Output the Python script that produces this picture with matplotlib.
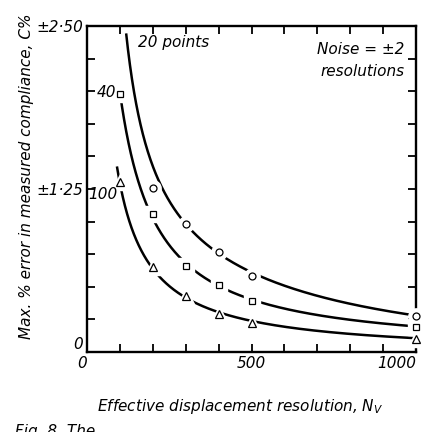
import numpy as np
import matplotlib
matplotlib.use("Agg")
import matplotlib.pyplot as plt

# ---- data (plotted points) ----
N_20 = [200, 300, 400, 500, 1000]
C_20 = [1.26, 0.98, 0.77, 0.585, 0.275]
N_40 = [100, 200, 300, 400, 500, 1000]
C_40 = [1.98, 1.06, 0.66, 0.51, 0.39, 0.19]
N_100 = [100, 200, 300, 400, 500, 1000]
C_100 = [1.30, 0.65, 0.43, 0.29, 0.225, 0.10]

# ---- drawn curves ----
curve20_N = [119, 151, 216, 300, 400, 500, 765, 1000]
curve20_C = [2.44, 1.88, 1.335, 0.98, 0.77, 0.585, 0.405, 0.275]
curve40_N = [100, 200, 300, 400, 500, 765, 1000]
curve40_C = [1.98, 1.06, 0.66, 0.51, 0.39, 0.275, 0.19]
curve100_N = [91, 100, 200, 300, 400, 500, 765, 1000]
curve100_C = [1.41, 1.30, 0.65, 0.43, 0.29, 0.225, 0.165, 0.10]

x_ticks = list(range(0, 1001, 100))
x_labels = {0: "0", 500: "500", 1000: "1000"}
y_ticks = [0, 0.25, 0.5, 0.75, 1.0, 1.25, 1.5, 1.75, 2.0, 2.25, 2.5]
y_labels = {0: "0", 1.25: "\u00b11\u00b725", 2.5: "\u00b12\u00b750"}

plt.rcParams['font.family'] = ['DejaVu Sans']
plt.rcParams['font.style'] = 'italic'
plt.rcParams['mathtext.fontset'] = 'dejavusans'


def smooth(xs, ys):
    # smooth least-squares cubic through the curve readings (log-log)
    lx = np.log(xs); ly = np.log(ys)
    p = np.polyfit(lx, ly, 3)
    xn = np.linspace(lx[0], lx[-1], 600)
    return np.exp(xn), np.exp(np.polyval(p, xn))


fig = plt.figure(figsize=(4.25, 4.32), dpi=100)
ax = fig.add_axes([87 / 425, 1 - 352 / 432, 329 / 425, 326 / 432])

series = [
    (curve20_N, curve20_C, N_20, C_20, 'o'),
    (curve40_N, curve40_C, N_40, C_40, 's'),
    (curve100_N, curve100_C, N_100, C_100, '^'),
]
for cx, cy, mx, my, mk in series:
    sx, sy = smooth(cx, cy)
    ax.plot(sx, sy, color='black', lw=1.8, solid_capstyle='butt', zorder=2, clip_on=False)
    ax.plot(mx, my, linestyle='none', marker=mk, ms=11 if mk != '^' else 12,
            mfc='white', mec='white', zorder=3, clip_on=False)
    ax.plot(mx, my, linestyle='none', marker=mk, ms=5 if mk != '^' else 5.5,
            mfc='white', mec='black', mew=0.9, zorder=4, clip_on=False)

ax.set_xlim(0, 1000)
ax.set_ylim(0, 2.5)
ax.set_xticks(x_ticks)
ax.set_xticklabels([x_labels.get(t, "") for t in x_ticks])
ax.set_yticks(y_ticks)
ax.set_yticklabels([y_labels.get(t, "") for t in y_ticks])
ax.tick_params(direction='in', length=5.5, width=1.3, top=True, right=True,
               labelsize=11, pad=3)
for lab in ax.get_yticklabels():
    if lab.get_text() == "0":
        lab.set_verticalalignment('bottom')
for lab in ax.get_xticklabels():
    if lab.get_text() == "1000":
        lab.set_horizontalalignment('right')
    if lab.get_text() == "0":
        lab.set_horizontalalignment('right')
for s in ax.spines.values():
    s.set_linewidth(1.7)

ax.text(155, 2.37, "20 points", fontsize=11, ha='left', va='center')
ax.text(965, 2.32, "Noise = \u00b12", fontsize=11, ha='right', va='center')
ax.text(965, 2.15, "resolutions", fontsize=11, ha='right', va='center')
ax.text(88, 1.99, "40", fontsize=11, ha='right', va='center')
ax.text(93, 1.21, "100", fontsize=11, ha='right', va='center')

fig.text(240 / 425, 1 - 407 / 432, "Effective displacement resolution, $N_V$",
         fontsize=11, ha='center', va='center')
fig.text(27 / 425, 1 - 176 / 432, "Max. % error in measured compliance, C%",
         fontsize=11, ha='center', va='center', rotation=90)
fig.text(15 / 425, 1 - 424 / 432, "Fig. 8  The", fontsize=11, ha='left', va='top')

fig.savefig("out.png", dpi=100, facecolor='white')
